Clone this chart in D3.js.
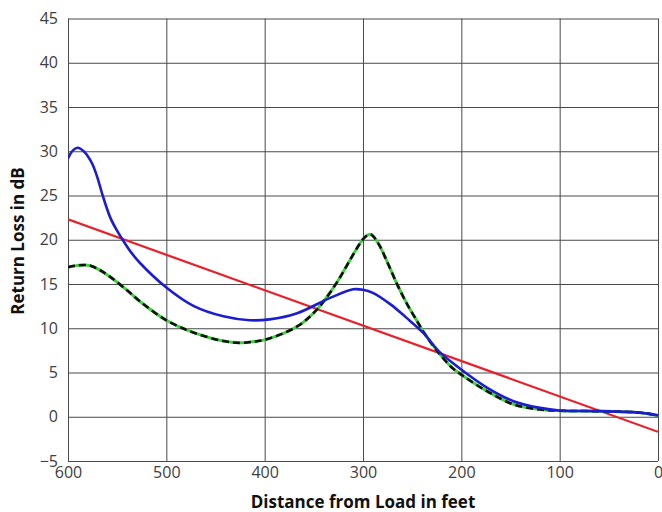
<!DOCTYPE html>
<html>
<head>
<meta charset="utf-8">
<script src="https://cdn.jsdelivr.net/npm/d3@7/dist/d3.min.js"></script>
<style>
  html, body { margin: 0; padding: 0; background: #fff; }
  svg { display: block; }
  text { font-family: "Open Sans", "Noto Sans", sans-serif; }
</style>
</head>
<body>
<svg id="chart" width="662" height="512"></svg>
<script>
// ---- data ----
const xTicks = [600, 500, 400, 300, 200, 100, 0];
const yTicks = [-5, 0, 5, 10, 15, 20, 25, 30, 35, 40, 45];

// red: linear trend (distance ft, dB)
const redSeries = [[600, 22.3], [0, -1.7]];

// blue curve
const blueSeries = [
  [600, 29.2], [595, 30.1], [590, 30.4], [584, 30.0], [579, 29.3], [575, 28.5],
  [570, 27.0], [565, 25.1], [557, 22.5], [550, 21.0], [545, 20.1], [536, 18.6],
  [527, 17.4], [500, 14.6], [472, 12.5], [442, 11.35], [415, 10.9],
  [395, 11.0], [367, 11.7], [334, 13.4], [310, 14.4], [300, 14.35], [290, 14.0],
  [272, 12.7], [256, 11.2], [239, 9.5], [222, 7.3], [205, 5.75], [198, 5.15],
  [174, 3.3], [147, 1.76], [120, 1.0], [100, 0.7], [60, 0.63], [25, 0.52],
  [10, 0.35], [0, 0.15]
];

// green (with black dashes) curve
const greenSeries = [
  [600, 16.9], [590, 17.1], [578, 17.1], [568, 16.6], [557, 15.8], [540, 14.3], [527, 13.05],
  [500, 10.9], [472, 9.5], [442, 8.55], [425, 8.35], [410, 8.5], [398, 8.75],
  [367, 10.2], [347, 12.1], [327, 15.1], [313, 17.75], [303, 19.6], [297, 20.4],
  [292, 20.6], [284, 19.5], [275, 17.4], [265, 14.9], [255, 12.7],
  [245, 10.8], [238, 9.5], [225, 7.5], [210, 5.6], [198, 4.6], [174, 2.9],
  [147, 1.4], [120, 0.82], [100, 0.68], [60, 0.63], [25, 0.52], [10, 0.35], [0, 0.15]
];

const xTitle = "Distance from Load in feet";
const yTitle = "Return Loss in dB";

// ---- layout ----
const svg = d3.select("#chart");
const m = { left: 68, right: 4, top: 18.5, bottom: 51 };
const W = 662, H = 512;
const pw = W - m.left - m.right, ph = H - m.top - m.bottom;

const x = d3.scaleLinear().domain([600, 0]).range([0, pw]);
const y = d3.scaleLinear().domain([-5, 45]).range([ph, 0]);

const g = svg.append("g").attr("transform", `translate(${m.left},${m.top})`);

// grid + y axis
const yAxis = g.append("g")
  .call(d3.axisLeft(y).tickValues(yTicks).tickSize(-pw).tickPadding(10).tickFormat(d3.format("d")));
yAxis.select(".domain").remove();
yAxis.selectAll("line").attr("stroke", "#4a4a4a").attr("stroke-width", 1);
yAxis.selectAll("text").attr("fill", "#404040").style("font-size", "16px");

const xAxis = g.append("g").attr("transform", `translate(0,${ph})`)
  .call(d3.axisBottom(x).tickValues(xTicks).tickSize(-ph).tickPadding(6).tickFormat(d3.format("d")));
xAxis.select(".domain").remove();
xAxis.selectAll("line").attr("stroke", "#4a4a4a").attr("stroke-width", 1);
xAxis.selectAll("text").attr("fill", "#404040").style("font-size", "16px");

// clip
svg.append("defs").append("clipPath").attr("id", "clip")
  .append("rect").attr("width", pw).attr("height", ph);

const line = d3.line().x(d => x(d[0])).y(d => y(d[1])).curve(d3.curveCatmullRom.alpha(0.5));
const plot = g.append("g").attr("clip-path", "url(#clip)");

plot.append("path").datum(redSeries).attr("d", d3.line().x(d => x(d[0])).y(d => y(d[1])))
  .attr("fill", "none").attr("stroke", "#e8202a").attr("stroke-width", 2.2);

plot.append("path").datum(greenSeries).attr("d", line)
  .attr("fill", "none").attr("stroke", "#3fd23f").attr("stroke-width", 3);
plot.append("path").datum(greenSeries).attr("d", line)
  .attr("fill", "none").attr("stroke", "#111").attr("stroke-width", 2.6)
  .attr("stroke-dasharray", "7,4");

plot.append("path").datum(blueSeries).attr("d", line)
  .attr("fill", "none").attr("stroke", "#1d1dd0").attr("stroke-width", 2.6);

// titles
svg.append("text").attr("x", 363).attr("y", 508)
  .attr("text-anchor", "middle").style("font-size", "17px").style("font-weight", "bold")
  .attr("fill", "#111").text(xTitle);
svg.append("text").attr("transform", `translate(24,${241}) rotate(-90)`)
  .attr("text-anchor", "middle").style("font-size", "17px").style("font-weight", "bold")
  .attr("fill", "#111").text(yTitle);
</script>
</body>
</html>
